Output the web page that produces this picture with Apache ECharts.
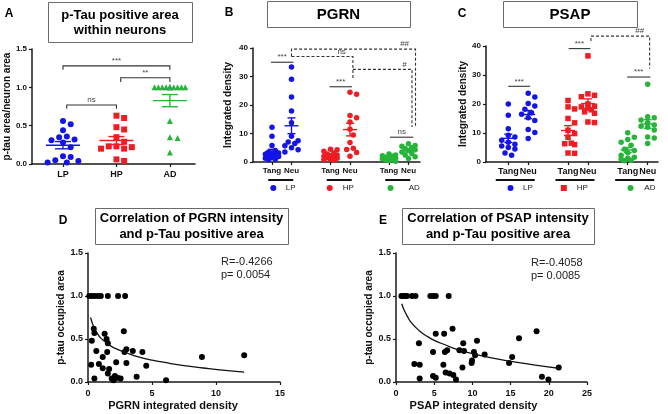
<!DOCTYPE html>
<html><head><meta charset="utf-8">
<script src="https://cdn.jsdelivr.net/npm/echarts@6/dist/echarts.min.js"></script>
<style>html,body{margin:0;padding:0;background:#fff}#c{width:668px;height:414px}</style>
</head><body><div id="c"></div>
<script>
// ---------------- data ----------------
const groupsA = ['LP', 'HP', 'AD'];
const tauLP = [0.56, 0.52, 0.44, 0.36, 0.31, 0.32, 0.28, 0.22, 0.35, 0.09, 0.04, 0.02, 0.02, 0.05, 0.10];
const tauHP = [0.63, 0.60, 0.48, 0.45, 0.35, 0.29, 0.23, 0.20, 0.20, 0.22, 0.23, 0.04, 0.06];
const tauAD = [1, 1, 1, 1, 1, 1, 1, 1, 1, 1, 1, 0.56, 0.35, 0.34, 0.15];

const cellTypes = ['Tang', 'Neu'];
const pgrnLPTang = [12.2, 9.0, 5.8, 4.0, 3.5, 3.2, 3.0, 2.7, 2.4, 2.1, 1.9, 1.6, 1.3, 1.0, 0.8];
const pgrnLPNeu  = [33.3, 29.0, 22.8, 17.9, 13.8, 9.0, 7.5, 7.0, 6.5, 5.7, 5.0, 4.3, 3.5];
const pgrnHPTang = [4.5, 4.3, 3.8, 3.2, 2.8, 2.5, 2.2, 2.0, 1.8, 1.5, 1.3, 1.0, 0.8, 0.6];
const pgrnHPNeu  = [24.5, 23.8, 16.3, 15.5, 14.0, 11.5, 9.5, 6.8, 4.8, 4.4, 3.3, 2.0];
const pgrnADTang = [2.8, 2.5, 2.2, 2.0, 1.7, 1.5, 1.3, 1.1, 0.9, 0.7, 0.5, 0.3];
const pgrnADNeu  = [6.4, 5.8, 5.5, 5.0, 4.7, 4.3, 4.0, 3.5, 3.0, 2.5, 1.8, 1.2];

const psapLPTang = [20.0, 16.1, 11.5, 9.2, 8.6, 7.5, 6.8, 6.1, 5.5, 5.0, 4.5, 3.1, 2.3];
const psapLPNeu  = [23.7, 22.4, 20.2, 19.3, 18.2, 17.0, 16.5, 15.3, 14.3, 11.2, 10.2, 8.1];
const psapHPTang = [21.2, 19.0, 18.3, 15.0, 13.5, 10.9, 9.8, 8.5, 6.5, 6.3, 6.0, 3.1, 3.0];
const psapHPNeu  = [36.6, 23.5, 23.0, 22.5, 20.0, 19.2, 18.6, 19.0, 18.0, 17.3, 16.8, 13.8, 13.6];
const psapADTang = [10.1, 8.5, 7.8, 6.8, 5.8, 4.4, 4.0, 3.2, 2.3, 1.6, 1.3, 1.0, 0.6, 0.4];
const psapADNeu  = [26.8, 15.6, 15.3, 14.5, 13.5, 12.8, 12.3, 12.0, 11.0, 8.6, 8.3, 6.4];

const corrPgrn = [[0.1,1],[0.3,1],[0.5,1],[0.75,1],[1.0,1],[1.55,1],[2.35,1],[2.9,1],
  [0.45,0.62],[0.5,0.57],[0.3,0.48],[1.3,0.56],[1.45,0.5],[1.55,0.45],[0.65,0.36],[1.5,0.35],
  [2.8,0.59],[2.85,0.35],[3.0,0.38],[3.5,0.36],[4.25,0.35],[1.15,0.29],[0.25,0.2],[0.85,0.21],
  [2.2,0.23],[3.0,0.22],[4.55,0.19],[1.15,0.16],[1.65,0.15],[1.55,0.1],[2.1,0.07],[1.85,0.04],
  [2.3,0.05],[2.55,0.04],[0.5,0.04],[3.8,0.06],[6.1,0.02],[8.9,0.29],[12.2,0.31],[2.0,0.02]];
const fitPgrn = [[0.2,0.75],[0.5,0.62],[0.75,0.56],[1,0.51],[1.5,0.45],[2,0.40],[3,0.34],[4,0.29],
  [5,0.255],[6,0.227],[7.5,0.19],[9,0.163],[10.5,0.138],[12.2,0.114]];

const corrPsap = [[0.7,1],[0.95,1],[1.2,1],[1.45,1],[2.1,1],[2.55,1],[4.5,1],[4.9,1],[5.2,1],[6.9,1],
  [5.2,0.56],[6.3,0.56],[7.4,0.62],[3.0,0.45],[16.1,0.51],[18.4,0.59],[8.8,0.45],[10.6,0.48],
  [4.85,0.35],[6.4,0.35],[6.7,0.37],[8.3,0.37],[8.9,0.36],[10.2,0.35],[10.35,0.31],[9.95,0.25],
  [9.9,0.22],[11.6,0.32],[15.2,0.29],[14.8,0.22],[21.3,0.17],[2.4,0.21],[3.1,0.2],[6.2,0.2],
  [8.7,0.17],[6.5,0.11],[7.0,0.1],[7.5,0.08],[3.1,0.04],[4.85,0.07],[5.2,0.05],[7.85,0.03],
  [19.1,0.06],[19.95,0.03]];
const fitPsap = [[0.75,0.91],[1,0.85],[1.5,0.76],[2,0.69],[3,0.60],[4,0.535],[5,0.485],[6.5,0.43],
  [8,0.38],[10,0.33],[12.5,0.28],[15,0.24],[18,0.20],[21.3,0.16]];

const statsPgrn = 'R=-0.4266\np= 0.0054';
const statsPsap = 'R=-0.4058\np= 0.0085';

// ---------------- helpers ----------------
const FONT = "'Liberation Sans', Arial, sans-serif";
const BLUE = '#1414e6', RED = '#ee1d23', GREEN = '#27b43a';
const groupColors = [BLUE, RED, GREEN];

function swarm(vals, yScale, xScale, size, maxOff) {
  const placed = [], res = new Array(vals.length);
  const order = vals.map((v, i) => i).sort((a, b) => vals[b] - vals[a]);
  const step = size * 0.55, cands = [0];
  for (let k = 1; k * step <= maxOff; k++) cands.push(k * step, -k * step);
  order.forEach(i => {
    const y = vals[i] * yScale;
    let best = 0, bestD = -1;
    for (const c of cands) {
      let dmin = Infinity;
      for (const p of placed) { const d = Math.hypot(p.x - c, p.y - y); if (d < dmin) dmin = d; }
      if (dmin >= size) { best = c; break; }
      if (dmin > bestD + 0.01) { bestD = dmin; best = c; }
    }
    placed.push({ x: best, y });
    res[i] = best / xScale;
  });
  return res;
}
function meanSem(a) {
  const n = a.length, m = a.reduce((s, v) => s + v, 0) / n;
  const sd = Math.sqrt(a.reduce((s, v) => s + (v - m) * (v - m), 0) / (n - 1));
  return [m, sd / Math.sqrt(n)];
}
function ax(base, o) {
  const r = JSON.parse(JSON.stringify(base));
  for (const k in o) {
    if (o[k] && typeof o[k] === 'object' && !Array.isArray(o[k]) && r[k] && typeof r[k] === 'object') Object.assign(r[k], o[k]);
    else r[k] = o[k];
  }
  return r;
}
const baseAxis = {
  type: 'value', splitLine: { show: false },
  axisLine: { show: true, onZero: false, lineStyle: { color: '#1a1a1a', width: 1.5 } },
  axisTick: { show: true, length: 3, lineStyle: { color: '#1a1a1a', width: 1.2 } },
  axisLabel: { color: '#111', fontWeight: 'bold', fontSize: 8, fontFamily: FONT, margin: 5 },
  nameTextStyle: { color: '#111', fontWeight: 'bold', fontSize: 10, fontFamily: FONT },
  nameLocation: 'middle'
};

function meanSemSeries(idx, items, colors, halfMean, halfCap) {
  return {
    type: 'custom', xAxisIndex: idx, yAxisIndex: idx, z: 5, silent: true, data: items,
    renderItem: (params, api) => {
      const x = api.value(0), m = api.value(1), s = api.value(2);
      const c = api.coord([x, m]), t = api.coord([x, m + s]), b = api.coord([x, m - s]);
      const st = { stroke: colors[params.dataIndex], lineWidth: 1.4 };
      return { type: 'group', children: [
        { type: 'line', shape: { x1: c[0] - halfMean, y1: c[1], x2: c[0] + halfMean, y2: c[1] }, style: st },
        { type: 'line', shape: { x1: c[0], y1: t[1], x2: c[0], y2: b[1] }, style: st },
        { type: 'line', shape: { x1: c[0] - halfCap, y1: t[1], x2: c[0] + halfCap, y2: t[1] }, style: st },
        { type: 'line', shape: { x1: c[0] - halfCap, y1: b[1], x2: c[0] + halfCap, y2: b[1] }, style: st }
      ] };
    }
  };
}
function annotSeries(idx, list) {
  return {
    type: 'custom', xAxisIndex: idx, yAxisIndex: idx, z: 6, silent: true,
    data: list.map(() => [0, 0]),
    renderItem: (params, api) => {
      const a = list[params.dataIndex];
      const pts = a.pts.map(p => api.coord(p));
      const lp = api.coord([a.lx, a.ly]);
      return { type: 'group', children: [
        { type: 'polyline', shape: { points: pts }, style: { stroke: '#333', lineWidth: 1.1, fill: 'none', lineDash: a.dashed ? [3, 2] : null } },
        { type: 'text', x: lp[0], y: lp[1] - 1, style: { text: a.label, fill: '#444', font: '8px ' + FONT, align: 'center', verticalAlign: 'bottom' } }
      ] };
    }
  };
}
function underlineSeries(idx, centers, halfW, shift) {
  return {
    type: 'custom', xAxisIndex: idx, yAxisIndex: idx, silent: true,
    data: centers.map(c => [c, 0]),
    renderItem: (params, api) => {
      const p = api.coord([api.value(0), 0]);
      return { type: 'line', shape: { x1: p[0] + shift - halfW, y1: p[1] + 18, x2: p[0] + shift + halfW, y2: p[1] + 18 },
        style: { stroke: '#111', lineWidth: 2 } };
    }
  };
}
function legendItem(name, icon, cx, cy, textStart) {
  return { data: [name], left: cx - 3, top: cy - 4, icon, itemWidth: 6, itemHeight: 6, padding: 0,
    selectedMode: false, formatter: n => n.split('·')[1],
    textStyle: { fontSize: 8, lineHeight: 8, color: '#222', fontFamily: FONT, padding: [0, 0, 0, textStart - cx - 8] } };
}

// ---------------- build ----------------
const series = [];
// Panel A
const symA = ['circle', 'rect', 'triangle'];
const tauGroups = [tauLP, tauHP, tauAD];
tauGroups.forEach((vals, g) => {
  const jit = swarm(vals, 76.7, 53.5, 7, 16);
  series.push({ type: 'scatter', name: 'A·' + groupsA[g], xAxisIndex: 0, yAxisIndex: 0, symbol: symA[g], symbolSize: 6,
    itemStyle: { color: groupColors[g], opacity: 1 }, data: vals.map((v, i) => [g + jit[i], v]) });
});
series.push(meanSemSeries(0, tauGroups.map((v, g) => [g].concat(meanSem(v))), groupColors, 17, 8));
series.push(annotSeries(0, [
  { pts: [[0, 1.23], [0, 1.28], [2, 1.28], [2, 1.23]], label: '***', lx: 1, ly: 1.28 },
  { pts: [[1.08, 1.07], [1.08, 1.125], [2, 1.125], [2, 1.07]], label: '**', lx: 1.54, ly: 1.125 },
  { pts: [[0.07, 0.72], [0.07, 0.77], [1, 0.77], [1, 0.72]], label: 'ns', lx: 0.535, ly: 0.77 }
]));

// Panels B and C
const pairPos = [0, 1, 2].flatMap(g => [3 * g, 3 * g + 1]);
function pairPanel(idx, prefix, groups, symbols, yScale, xScale) {
  const ms = [], cols = [];
  groups.forEach((pair, g) => {
    pair.forEach((vals, k) => {
      const x0 = 3 * g + k;
      const jit = swarm(vals, yScale, xScale, 6, 9);
      series.push({ type: 'scatter', name: prefix + '·' + groupsA[g], xAxisIndex: idx, yAxisIndex: idx,
        symbol: symbols[g], symbolSize: 5.5, itemStyle: { color: groupColors[g], opacity: 1 },
        data: vals.map((v, i) => [x0 + jit[i], v]) });
      ms.push([x0].concat(meanSem(vals))); cols.push(groupColors[g]);
    });
  });
  series.push(meanSemSeries(idx, ms, cols, 7, 4));
}
pairPanel(1, 'B', [[pgrnLPTang, pgrnLPNeu], [pgrnHPTang, pgrnHPNeu], [pgrnADTang, pgrnADNeu]], ['circle', 'circle', 'circle'], 2.85, 19.5);
pairPanel(2, 'C', [[psapLPTang, psapLPNeu], [psapHPTang, psapHPNeu], [psapADTang, psapADNeu]], ['circle', 'rect', 'circle'], 2.9, 19.9);
series.push(annotSeries(1, [
  { pts: [[-0.05, 35], [1.1, 35]], label: '***', lx: 0.52, ly: 35 },
  { pts: [[2.95, 26.4], [4.1, 26.4]], label: '***', lx: 3.52, ly: 26.4 },
  { pts: [[6.05, 8.7], [7.25, 8.7]], label: 'ns', lx: 6.65, ly: 8.7 },
  { pts: [[1, 37], [1, 39.6], [7.36, 39.6], [7.36, 12.3]], dashed: true, label: '##', lx: 6.8, ly: 39.6 },
  { pts: [[1, 37], [4.15, 37], [4.15, 29.5]], dashed: true, label: 'ns', lx: 3.57, ly: 37 },
  { pts: [[4.15, 32.5], [7.18, 32.5], [7.18, 12.3]], dashed: true, label: '#', lx: 6.8, ly: 32.5 }
]));
series.push(annotSeries(2, [
  { pts: [[0, 26.1], [1.1, 26.1]], label: '***', lx: 0.55, ly: 26.1 },
  { pts: [[3.03, 39.1], [4.12, 39.1]], label: '***', lx: 3.57, ly: 39.1 },
  { pts: [[5.97, 29.3], [7.14, 29.3]], label: '***', lx: 6.55, ly: 29.3 },
  { pts: [[4.15, 41.7], [4.15, 43.4], [7.1, 43.4], [7.1, 32.2]], dashed: true, label: '##', lx: 6.6, ly: 43.4 }
]));
series.push(underlineSeries(1, [0.5, 3.5, 6.5], 12.5, -1));
series.push(underlineSeries(2, [0.5, 3.5, 6.5], 19.5, -3));

// Panels D and E
[[3, corrPgrn, fitPgrn], [4, corrPsap, fitPsap]].forEach(([idx, pts, fit]) => {
  series.push({ type: 'scatter', xAxisIndex: idx, yAxisIndex: idx, symbolSize: 6, itemStyle: { color: '#000', opacity: 1 }, data: pts });
  series.push({ type: 'line', xAxisIndex: idx, yAxisIndex: idx, smooth: true, showSymbol: false, silent: true,
    lineStyle: { color: '#111', width: 1.3 }, data: fit });
});

const boxes = [
  { x: 48, y: 2, w: 144, h: 40, text: 'p-Tau positive area\nwithin neurons', size: 13, lh: 15 },
  { x: 267, y: 1, w: 143, h: 26, text: 'PGRN', size: 15, lh: 16 },
  { x: 503, y: 1, w: 134, h: 26, text: 'PSAP', size: 15, lh: 16 },
  { x: 95, y: 208, w: 193, h: 36, text: 'Correlation of PGRN intensity\nand p-Tau positive area', size: 13, lh: 16 },
  { x: 402, y: 208, w: 192, h: 36, text: 'Correlation of PSAP intensity\nand p-Tau positive area', size: 13, lh: 16 }
];
const letters = [['A', 9, 14], ['B', 229, 13], ['C', 462, 14], ['D', 63, 221], ['E', 383, 221]];
const graphics = [];
boxes.forEach(b => {
  graphics.push({ type: 'rect', shape: { x: b.x + 0.5, y: b.y + 0.5, width: b.w, height: b.h }, style: { fill: '#fff', stroke: '#6a6a6a', lineWidth: 1 } });
  graphics.push({ type: 'text', x: b.x + b.w / 2, y: b.y + b.h / 2 + 0.5, style: { text: b.text, font: 'bold ' + b.size + 'px ' + FONT, fill: '#000', align: 'center', verticalAlign: 'middle', lineHeight: b.lh } });
});
letters.forEach(([t, x, y]) => graphics.push({ type: 'text', x, y, style: { text: t, font: 'bold 12px ' + FONT, fill: '#000', align: 'center', verticalAlign: 'middle' } }));
[[statsPgrn, 221, 255.5], [statsPsap, 531, 256.5]].forEach(([t, x, y]) => graphics.push({ type: 'text', x, y,
  style: { text: t, font: '11px ' + FONT, fill: '#222', align: 'left', verticalAlign: 'top', lineHeight: 13 } }));

const option = {
  animation: false,
  backgroundColor: '#fff',
  grid: [
    { left: 32, top: 49, width: 163, height: 115, outerBoundsMode: 'none' },
    { left: 253, top: 48, width: 167, height: 114, outerBoundsMode: 'none' },
    { left: 486, top: 46, width: 172, height: 116, outerBoundsMode: 'none' },
    { left: 88, top: 253, width: 192, height: 129, outerBoundsMode: 'none' },
    { left: 396, top: 253, width: 191, height: 129, outerBoundsMode: 'none' }
  ],
  xAxis: [
    ax(baseAxis, { gridIndex: 0, min: -0.58, max: 2.47,
      axisLabel: { customValues: [0, 1, 2], formatter: v => groupsA[Math.round(v)], fontSize: 9, margin: 6 },
      axisTick: { customValues: [0, 1, 2] } }),
    ax(baseAxis, { gridIndex: 1, min: -0.974, max: 7.59,
      axisLabel: { customValues: pairPos, formatter: v => cellTypes[Math.round(v) % 3], fontSize: 8, margin: 5 },
      axisTick: { customValues: pairPos } }),
    ax(baseAxis, { gridIndex: 2, min: -1.12, max: 7.52,
      axisLabel: { customValues: pairPos, formatter: v => cellTypes[Math.round(v) % 3], fontSize: 9, margin: 5 },
      axisTick: { customValues: pairPos } }),
    ax(baseAxis, { gridIndex: 3, min: 0, max: 15, interval: 5, name: 'PGRN integrated density', nameGap: 18,
      nameTextStyle: { fontSize: 11, padding: [0, 22, 0, 0] }, axisLabel: { fontSize: 9, margin: 7 } }),
    ax(baseAxis, { gridIndex: 4, min: 0, max: 25, interval: 5, name: 'PSAP integrated density', nameGap: 18,
      nameTextStyle: { fontSize: 11, padding: [0, 36, 0, 0] }, axisLabel: { fontSize: 9, margin: 7 } })
  ],
  yAxis: [
    ax(baseAxis, { gridIndex: 0, min: 0, max: 1.5, interval: 0.5, name: 'p-tau area/neuron area', nameGap: 19,
      axisLabel: { formatter: v => v.toFixed(1), fontSize: 8 } }),
    ax(baseAxis, { gridIndex: 1, min: 0, max: 40, interval: 10, name: 'Integrated density', nameGap: 20 }),
    ax(baseAxis, { gridIndex: 2, min: 0, max: 40, interval: 10, name: 'Integrated density', nameGap: 15 }),
    ax(baseAxis, { gridIndex: 3, min: 0, max: 1.5, interval: 0.5, name: 'p-tau occupied area', nameGap: 21,
      axisLabel: { formatter: v => v.toFixed(1), fontSize: 9 } }),
    ax(baseAxis, { gridIndex: 4, min: 0, max: 1.5, interval: 0.5, name: 'p-tau occupied area', nameGap: 19,
      axisLabel: { formatter: v => v.toFixed(1), fontSize: 9 } })
  ],
  legend: [
    legendItem('B·LP', 'circle', 273.3, 188, 285.7),
    legendItem('B·HP', 'circle', 329.7, 188, 342.7),
    legendItem('B·AD', 'circle', 390.5, 188, 408.7),
    legendItem('C·LP', 'circle', 510.5, 188, 523),
    legendItem('C·HP', 'rect', 563.8, 188, 576.7),
    legendItem('C·AD', 'circle', 630.5, 188, 644.3)
  ],
  graphic: { elements: graphics },
  series
};
const chart = echarts.init(document.getElementById('c'), null, { renderer: 'canvas' });
chart.setOption(option);
</script>
</body></html>
